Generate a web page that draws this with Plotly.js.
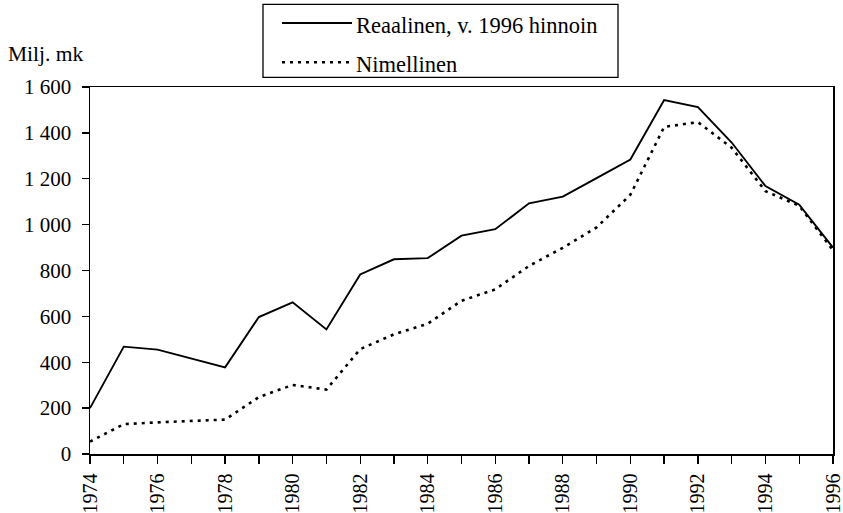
<!DOCTYPE html>
<html>
<head>
<meta charset="utf-8">
<script src="https://cdn.plot.ly/plotly-3.0.1.min.js"></script>
<style>html,body{margin:0;padding:0;background:#fff;}#chart{width:843px;height:513px;}</style>
</head>
<body>
<div id="chart"></div>
<script>
const years = [1974,1975,1976,1977,1978,1979,1980,1981,1982,1983,1984,1985,1986,1987,1988,1989,1990,1991,1992,1993,1994,1995,1996];
const reaalinen = [200,468,455,418,378,597,661,543,783,849,854,952,980,1093,1122,1203,1284,1543,1512,1358,1168,1087,900];
const nimellinen = [54,130,138,145,150,248,301,281,457,522,568,668,718,820,899,988,1130,1426,1447,1335,1146,1082,888];
const seriesNames = ["Reaalinen, v. 1996 hinnoin", "Nimellinen"];
const yTickVals = [0,200,400,600,800,1000,1200,1400,1600];
const yTickText = ["0","200","400","600","800","1 000","1 200","1 400","1 600"];
const yAxisLabel = "Milj. mk";
const xTickText = years.map(y => (y % 2 === 0 ? String(y) : ""));

// pixel -> paper helpers (plot area: x 90..833, y 86.7..454)
const L = 90, R = 833, T = 86.7, B = 454;
const px = x => (x - L) / (R - L);
const py = y => (B - y) / (B - T);

const FONT = "'Liberation Serif', 'Times New Roman', Times, serif";
const FS = 21;

const traces = [
  {x: years, y: reaalinen, type: "scatter", mode: "lines", name: seriesNames[0],
   line: {color: "#000", width: 1.9}, showlegend: false},
  {x: years, y: nimellinen, type: "scatter", mode: "lines", name: seriesNames[1],
   line: {color: "#000", width: 2.6, dash: "3px,5px"}, showlegend: false}
];

const layout = {
  width: 843, height: 513,
  margin: {l: L, r: 843 - R, t: T, b: 513 - B},
  paper_bgcolor: "#fff", plot_bgcolor: "#fff",
  font: {family: FONT, size: FS, color: "#000"},
  showlegend: false,
  xaxis: {
    range: [1974, 1996], tickvals: years, ticktext: xTickText, tickangle: -90,
    ticks: "outside", ticklen: 8, tickwidth: 1.3, tickcolor: "#000",
    showline: true, linecolor: "#000", linewidth: 1.5, mirror: true,
    showgrid: false, zeroline: false, fixedrange: true, ticklabeloverflow: "allow",
    tickfont: {family: FONT, size: 20, color: "#000"}, ticklabelstandoff: 2
  },
  xaxis2: {
    range: [1974, 1996], overlaying: "x", anchor: "y", side: "bottom", tickvals: years,
    showticklabels: false, ticks: "inside", ticklen: 8, tickwidth: 1.3, tickcolor: "#000",
    showline: false, showgrid: false, zeroline: false
  },
  yaxis: {
    range: [0, 1600], tickvals: yTickVals, ticktext: yTickText,
    ticks: "outside", ticklen: 7, tickwidth: 1.3, tickcolor: "#000",
    showline: true, linecolor: "#000", linewidth: 1.5, mirror: true,
    showgrid: false, zeroline: false, fixedrange: true,
    tickfont: {family: FONT, size: FS, color: "#000"}, ticklabelstandoff: 6
  },
  yaxis2: {
    range: [0, 1600], overlaying: "y", anchor: "x", side: "left", tickvals: yTickVals,
    showticklabels: false, ticks: "inside", ticklen: 7, tickwidth: 1.3, tickcolor: "#000",
    showline: false, showgrid: false, zeroline: false
  },
  shapes: [
    {type: "rect", xref: "paper", yref: "paper", x0: px(263), x1: px(618), y0: py(77), y1: py(4),
     line: {color: "#000", width: 1.3}, fillcolor: "rgba(0,0,0,0)"},
    {type: "line", xref: "paper", yref: "paper", x0: px(282), x1: px(352), y0: py(22.7), y1: py(22.7),
     line: {color: "#000", width: 1.9}},
    {type: "line", xref: "paper", yref: "paper", x0: px(282), x1: px(352), y0: py(62), y1: py(62),
     line: {color: "#000", width: 2.6, dash: "3px,5px"}}
  ],
  annotations: [
    {xref: "paper", yref: "paper", x: px(354), y: py(25), xanchor: "left", yanchor: "middle",
     text: seriesNames[0], showarrow: false, font: {family: FONT, size: 22.5, color: "#000"}},
    {xref: "paper", yref: "paper", x: px(354), y: py(64), xanchor: "left", yanchor: "middle",
     text: seriesNames[1], showarrow: false, font: {family: FONT, size: 22.5, color: "#000"}},
    {xref: "paper", yref: "paper", x: px(6), y: py(54), xanchor: "left", yanchor: "middle",
     text: yAxisLabel, showarrow: false, font: {family: FONT, size: 21.5, color: "#000"}}
  ]
};

Plotly.newPlot("chart", traces, layout, {staticPlot: true, displayModeBar: false});
</script>
</body>
</html>
